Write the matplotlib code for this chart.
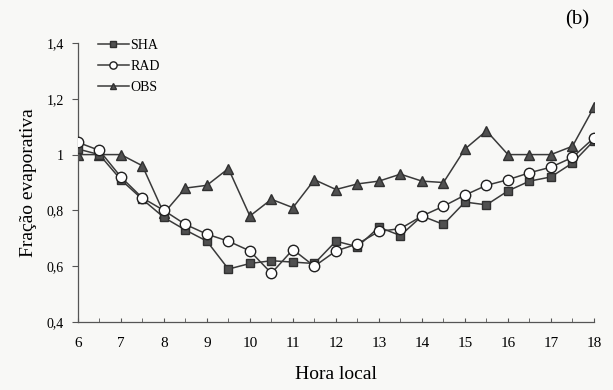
import matplotlib.pyplot as plt
from matplotlib.ticker import FixedLocator, FuncFormatter

plt.rcParams['font.family'] = ['Liberation Serif', 'DejaVu Serif']

hora = [6, 6.5, 7, 7.5, 8, 8.5, 9, 9.5, 10, 10.5, 11, 11.5, 12,
        12.5, 13, 13.5, 14, 14.5, 15, 15.5, 16, 16.5, 17, 17.5, 18]

sha = [1.02, 1.00, 0.91, 0.84, 0.775, 0.73, 0.69, 0.59, 0.61, 0.62, 0.615, 0.61, 0.69,
       0.67, 0.74, 0.71, 0.78, 0.75, 0.83, 0.82, 0.87, 0.905, 0.92, 0.97, 1.05]
rad = [1.044, 1.015, 0.92, 0.845, 0.80, 0.75, 0.715, 0.69, 0.655, 0.575, 0.66, 0.60, 0.655,
       0.68, 0.725, 0.735, 0.78, 0.815, 0.855, 0.89, 0.91, 0.935, 0.955, 0.99, 1.06]
obs = [1.00, 1.00, 1.00, 0.96, 0.79, 0.88, 0.89, 0.95, 0.78, 0.84, 0.81, 0.91, 0.875,
       0.895, 0.905, 0.93, 0.905, 0.90, 1.02, 1.085, 1.00, 1.00, 1.00, 1.03, 1.17]

fig = plt.figure(figsize=(6.13, 3.9), dpi=100)
fig.patch.set_facecolor('#f8f8f6')
ax = fig.add_axes([0.127, 0.174, 0.842, 0.716])
ax.set_facecolor('#f8f8f6')

linha = '#3a3a3a'
ax.plot(hora, sha, color=linha, lw=1.1, marker='s', ms=6,
        mfc='#505050', mec='#303030', label='SHA', zorder=3)
ax.plot(hora, rad, color=linha, lw=1.1, marker='o', ms=7.5,
        mfc='white', mec='#202020', mew=1.0, label='RAD', zorder=4)
ax.plot(hora, obs, color=linha, lw=1.1, marker='^', ms=7,
        mfc='#505050', mec='#303030', label='OBS', zorder=2)

ax.set_xlim(6, 18)
ax.set_ylim(0.4, 1.4)
ax.xaxis.set_major_locator(FixedLocator(range(6, 19)))
ax.xaxis.set_minor_locator(FixedLocator([h + 0.5 for h in range(6, 18)]))
ax.yaxis.set_major_locator(FixedLocator([0.4, 0.6, 0.8, 1.0, 1.2, 1.4]))
ax.yaxis.set_major_formatter(FuncFormatter(lambda v, p: f'{v:g}'.replace('.', ',')))

for s in ['top', 'right']:
    ax.spines[s].set_visible(False)
for s in ['left', 'bottom']:
    ax.spines[s].set_color('#555555')
    ax.spines[s].set_linewidth(0.9)

ax.tick_params(axis='x', which='both', direction='in', length=3, color='#555555',
               labelsize=11, pad=11)
ax.tick_params(axis='y', direction='out', length=4, color='#555555', labelsize=10, pad=6)

ax.set_xlabel('Hora local', fontsize=14, labelpad=11)
ax.set_ylabel('Fração evaporativa', fontsize=14, labelpad=7)

leg = ax.legend(loc='upper left', bbox_to_anchor=(0.015, 1.06), frameon=False,
                fontsize=10, handlelength=2.2, handletextpad=0.1, labelspacing=0.6,
                markerscale=0.7)

fig.text(0.962, 0.95, '(b)', fontsize=15, ha='right', va='center')

fig.savefig('out.png', dpi=100, facecolor=fig.get_facecolor())
